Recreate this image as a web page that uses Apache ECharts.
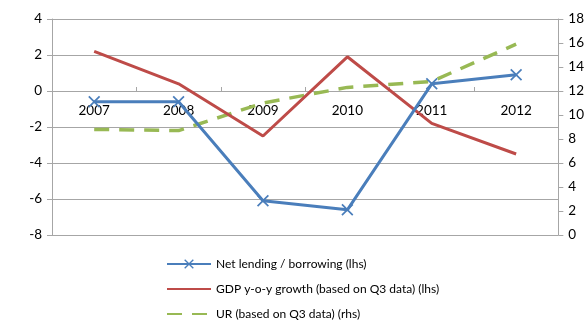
<!DOCTYPE html>
<html><head><meta charset="utf-8">
<script src="https://cdn.jsdelivr.net/npm/echarts@6/dist/echarts.min.js"></script>
<style>html,body{margin:0;padding:0;background:#fff}#c{width:587px;height:320px}</style>
</head><body><div id="c"></div>
<script>
const categories = ['2007','2008','2009','2010','2011','2012'];
const netLending = [-0.6, -0.6, -6.1, -6.6, 0.4, 0.9];
const gdpGrowth = [2.2, 0.4, -2.5, 1.9, -1.8, -3.5];
const unemployment = [8.8, 8.7, 11.0, 12.3, 12.8, 15.9];
const leftTicks = [-8, -6, -4, -2, 0, 2, 4];
const rightTicks = [0, 2, 4, 6, 8, 10, 12, 14, 16, 18];
const seriesNames = ['Net lending / borrowing (lhs)', 'GDP y-o-y growth (based on Q3 data) (lhs)', 'UR (based on Q3 data) (rhs)'];

const FONT = 'Lato, "Open Sans", sans-serif';
const xSym = 'path://M1,0 L5,4 L9,0 L10,1 L6,5 L10,9 L9,10 L5,6 L1,10 L0,9 L4,5 L0,1 Z';
const chart = echarts.init(document.getElementById('c'));
chart.setOption({
  animation: false,
  textStyle: {fontFamily: FONT},
  grid: {left: 52, right: 25, top: 19, bottom: 85, containLabel: false},
  xAxis: {
    type: 'category', data: categories, boundaryGap: true, position: 'bottom', offset: -144,
    axisLine: {onZero: false, lineStyle: {color: '#a6a6a6', width: 1}},
    axisTick: {show: true, inside: true, length: 4, lineStyle: {color: '#a6a6a6'}},
    axisLabel: {color: '#000', fontSize: 13.5, margin: 13, fontFamily: FONT},
    splitLine: {show: false}
  },
  yAxis: [{
    type: 'value', min: leftTicks[0], max: leftTicks[leftTicks.length-1], interval: 2,
    axisLine: {show: true, lineStyle: {color: '#a6a6a6'}},
    axisTick: {show: true, length: 5, lineStyle: {color: '#a6a6a6'}},
    axisLabel: {color: '#000', fontSize: 13.5, margin: 10, fontFamily: FONT},
    splitLine: {show: true, lineStyle: {color: '#a6a6a6', width: 1}}
  }, {
    type: 'value', min: rightTicks[0], max: rightTicks[rightTicks.length-1], interval: 2, position: 'right',
    axisLine: {show: true, lineStyle: {color: '#a6a6a6'}},
    axisTick: {show: true, length: 5, lineStyle: {color: '#a6a6a6'}},
    axisLabel: {color: '#000', fontSize: 13.5, margin: 10, fontFamily: FONT},
    splitLine: {show: false}
  }],
  legend: {
    orient: 'vertical', left: 166, top: 258, height: 63, itemWidth: 44, itemHeight: 12, itemGap: 13,
    padding: 0,
    textStyle: {fontSize: 12, color: '#000', fontFamily: FONT},
    data: [
      {name: seriesNames[0]},
      {name: seriesNames[1], itemStyle: {opacity: 0}},
      {name: seriesNames[2], itemStyle: {opacity: 0}}
    ]
  },
  series: [{
    name: seriesNames[0], type: 'line', data: netLending, yAxisIndex: 0,
    symbol: xSym, symbolSize: 12, showSymbol: true,
    lineStyle: {color: '#4a7ebb', width: 3}, itemStyle: {color: '#4a7ebb'}, z: 4
  }, {
    name: seriesNames[1], type: 'line', data: gdpGrowth, yAxisIndex: 0,
    symbol: 'none', lineStyle: {color: '#be4b48', width: 3}, itemStyle: {color: '#be4b48'}, z: 3
  }, {
    name: seriesNames[2], type: 'line', data: unemployment, yAxisIndex: 1,
    symbol: 'none', lineStyle: {color: '#98b954', width: 3.5, type: [15, 10]}, itemStyle: {color: '#98b954'}, z: 2
  }]
});
</script></body></html>
